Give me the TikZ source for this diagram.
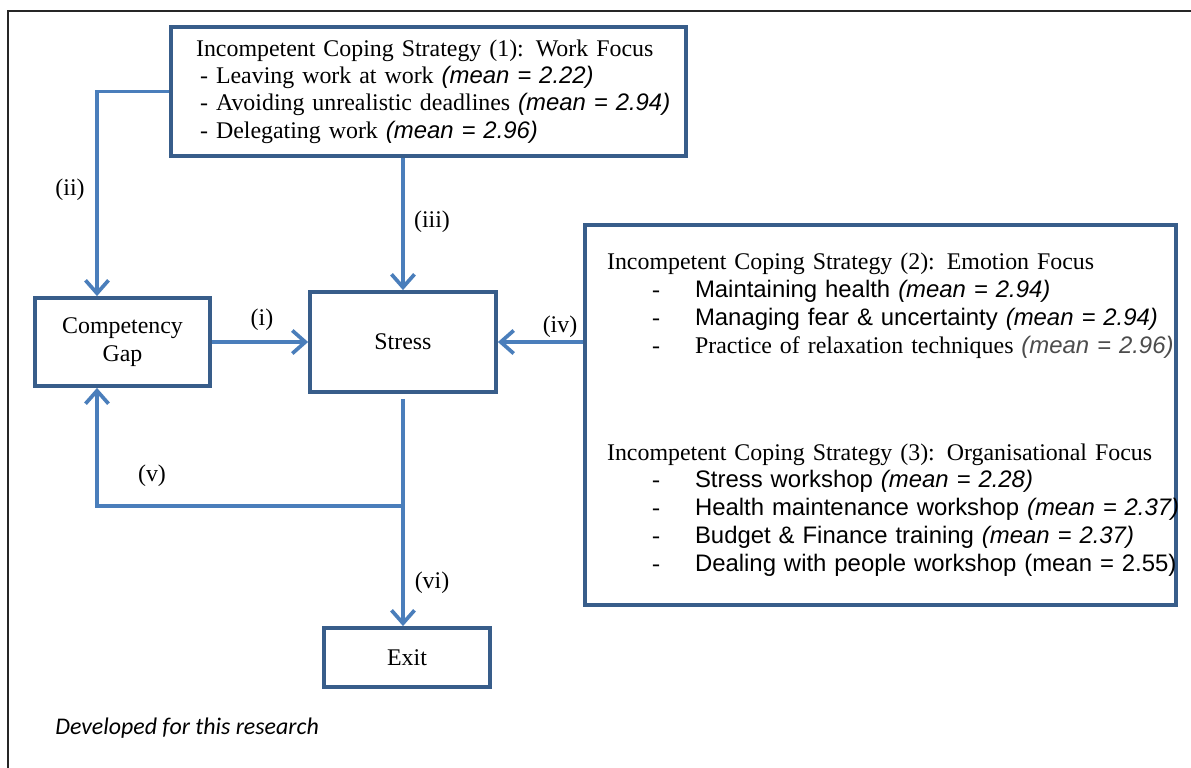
\documentclass[tikz,border=0pt]{standalone}
\usepackage{fontspec}
\setmainfont{Liberation Serif}
\setsansfont{Liberation Sans}
\newfontfamily\capfont{Carlito}
\usepackage{xcolor}
\usetikzlibrary{arrows.meta,calc,positioning}
\definecolor{boxblue}{RGB}{56,93,138}
\definecolor{arrowblue}{RGB}{74,126,187}
\newcommand{\mn}[1]{{\sffamily\itshape (mean = #1)}}
\newcommand{\dsh}{\makebox[0.4cm][l]{\hspace{0.08cm}-}}
\newcommand{\itm}{\hspace*{0.9cm}\makebox[0.86cm][l]{-}}

\begin{document}
\begin{tikzpicture}[
  x=0.02cm, y=-0.02cm,
  font=\fontsize{13.6}{15.6}\selectfont,
  blk/.style={draw=boxblue, line width=2.2pt, fill=white, align=center, inner sep=0pt},
  lbl/.style={inner sep=1pt},
  arr/.style={draw=arrowblue, line width=2.1pt, -{Straight Barb[length=2.6mm, width=4.6mm, line width=2.1pt]}}
]
\useasboundingbox (0,0) rectangle (1191,768);
\draw[line width=1.2pt, black!85] (1191,11) -- (8,11) -- (8,768);

% boxes
\node[blk, align=left, text width=9.3cm, inner xsep=0.5cm, minimum height=2.58cm] (wrk) at (428.5,91.5)
  {\mbox{Incompetent Coping Strategy (1): Work Focus}\\
   \mbox{\dsh Leaving work at work \mn{2.22}}\\
   \mbox{\dsh Avoiding unrealistic deadlines \mn{2.94}}\\
   \mbox{\dsh Delegating work \mn{2.96}}};
\node[blk, minimum width=3.5cm, minimum height=1.76cm] (gap) at (122.5,342) {Competency\\Gap};
\node[blk, minimum width=3.72cm, minimum height=2cm] (str) at (403,342) {Stress};
\node[blk, minimum width=3.32cm, minimum height=1.18cm] (ext) at (407,657.5) {Exit};
\node[blk, align=left, text width=10.94cm, inner xsep=0.44cm, minimum height=7.6cm] (emo) at (880.5,415)
  {\mbox{Incompetent Coping Strategy (2): Emotion Focus}\\[0.3pt]
   \mbox{\itm{\sffamily Maintaining health} \mn{2.94}}\\[0.3pt]
   \mbox{\itm{\sffamily Managing fear \& uncertainty} \mn{2.94}}\\[0.3pt]
   \mbox{\itm Practice of relaxation techniques {\color{black!70}\mn{2.96}}}\\[1.58cm]
   \mbox{Incompetent Coping Strategy (3): Organisational Focus}\\[0.3pt]
   \mbox{\itm{\sffamily Stress workshop} \mn{2.28}}\\[0.3pt]
   \mbox{\itm{\sffamily Health maintenance workshop} \mn{2.37}}\\[0.3pt]
   \mbox{\itm{\sffamily Budget \& Finance training} \mn{2.37}}\\[0.3pt]
   \mbox{\itm{\sffamily Dealing with people workshop (mean = 2.55)}}};

% connectors
\coordinate (lft) at (97,506);
\coordinate (spl) at (403,506);
\draw[arr] (wrk.west) -| (gap.north -| lft);
\draw[arr] (str.north |- wrk.south) -- (str.north);
\draw[arr] (gap.east) -- (str.west);
\draw[arr] (emo.west |- str) -- (str.east);
\draw[arr] ([yshift=-0.1cm]str.south) -- (spl) -| (gap.south -| lft);
\draw[arr] (spl) -- (ext.north -| spl);

% labels
\node[lbl] (l1) at (262,320) {(i)};
\node[lbl] (l2) at (70,190) {(ii)};
\node[lbl] (l3) at (432,222) {(iii)};
\node[lbl] (l4) at (560,327) {(iv)};
\node[lbl] (l5) at (152,476) {(v)};
\node[lbl] (l6) at (432,583) {(vi)};

\node[anchor=west, inner sep=0pt] (src) at (55,728) {\capfont\itshape Developed for this research};
\end{tikzpicture}
\end{document}
